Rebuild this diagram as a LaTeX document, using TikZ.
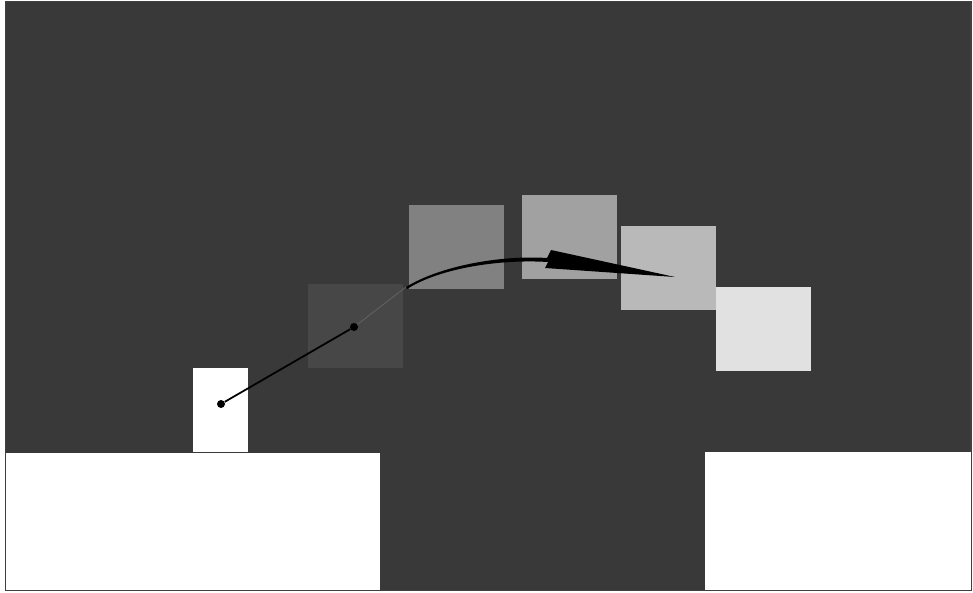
\documentclass[tikz,border=0pt]{standalone}
\usepackage{tikz}
\usetikzlibrary{positioning}

\definecolor{bgdark}{HTML}{393939}
\definecolor{stepone}{HTML}{474747}
\definecolor{steptwo}{HTML}{818181}
\definecolor{stepthree}{HTML}{A1A1A1}
\definecolor{stepfour}{HTML}{B9B9B9}
\definecolor{stepfive}{HTML}{E1E1E1}

\tikzset{
    ghost/.style={rectangle, inner sep=0pt, outer sep=0pt, minimum width=1.9cm, minimum height=1.68cm, anchor=north west},
    platform/.style={fill=white, draw=none},
    pivot/.style={circle, fill=black, inner sep=0pt, minimum size=0.16cm}
}

\begin{document}
\begin{tikzpicture}[x=0.02cm, y=-0.02cm]
        \useasboundingbox (0,0) rectangle (973,592);
        \fill[white] (0,0) rectangle (973,592);

        % Background
        \draw[fill=bgdark, draw=black!75, line width=0.6pt] (5.5,1.5) rectangle (971,590.5);

        % Platforms
        \fill[platform] (6,453) rectangle (380,590);
        \fill[platform] (705,452) rectangle (970.5,590);

        % Starting block
        \node (block) [rectangle, fill=white, inner sep=0pt, minimum width=1.1cm, minimum height=1.68cm, anchor=north west] at (193,368) {};

        % Ghost positions along the jump
        \node (ghost1) [ghost, fill=stepone] at (308,284) {};
        \node (ghost2) [ghost, fill=steptwo] at (409,205) {};
        \node (ghost3) [ghost, fill=stepthree] at (522,195) {};
        \node (ghost4) [ghost, fill=stepfour] at (621,226) {};
        \node (ghost5) [ghost, fill=stepfive] at (716,287) {};

        % Pivots
        \node (start) [pivot] at (221,404) {};
        \node (mid) [pivot] at (354,327) {};
        \coordinate (faint) at (406,287);

        % Trajectory
        \draw[line width=1pt] (start) -- (mid);
        \draw[black!60, line width=0.4pt] (mid) -- (faint);
        \fill[black] (faint) .. controls (440,266) and (500,255) .. (547,258)
            -- (551,250) -- (675,277) -- (545,268) -- (548,262)
            .. controls (500,259) and (440,268) .. (407,289) -- cycle;
    \end{tikzpicture}
\end{document}
